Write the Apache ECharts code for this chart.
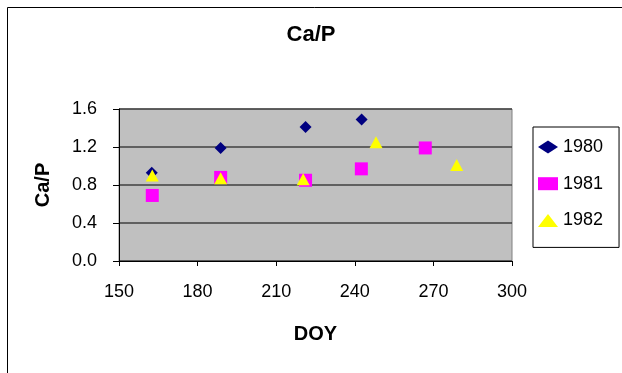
<!DOCTYPE html>
<html>
<head>
<meta charset="utf-8">
<script src="https://cdn.jsdelivr.net/npm/echarts@6/dist/echarts.min.js"></script>
<style>
html,body{margin:0;padding:0;background:#fff;}
#c{width:622px;height:373px;}
</style>
</head>
<body>
<div id="c"></div>
<script>
const seriesNames = ['1980', '1981', '1982'];
const doy1980 = [162.5, 188.8, 221.2, 242.6];
const val1980 = [0.93, 1.19, 1.41, 1.49];
const doy1981 = [162.7, 188.8, 221.2, 242.5, 266.9];
const val1981 = [0.69, 0.88, 0.85, 0.97, 1.19];
const doy1982 = [162.7, 188.8, 220.3, 248.1, 278.9];
const val1982 = [0.90, 0.87, 0.86, 1.25, 1.01];
const xTicks = [150, 180, 210, 240, 270, 300];
const yTicks = [0.0, 0.4, 0.8, 1.2, 1.6];

const FONT = '"Liberation Sans", Arial, sans-serif';
const zip = (a, b) => a.map((v, i) => [v, b[i]]);

const chart = echarts.init(document.getElementById('c'), null, {renderer: 'canvas'});
chart.setOption({
  animation: false,
  backgroundColor: '#ffffff',
  title: {
    text: 'Ca/P',
    left: 'center',
    top: 24,
    padding: 0,
    textStyle: {fontFamily: FONT, fontSize: 22, fontWeight: 'bold', color: '#000'}
  },
  grid: {
    left: 119, right: 110, top: 109, bottom: 112,
    show: true, backgroundColor: '#C0C0C0', borderColor: '#808080', borderWidth: 1
  },
  xAxis: {
    type: 'value',
    min: xTicks[0], max: xTicks[xTicks.length - 1], interval: 30,
    name: 'DOY', nameLocation: 'middle', nameGap: 63,
    nameTextStyle: {fontFamily: FONT, fontSize: 20, fontWeight: 'bold', color: '#000'},
    axisLine: {show: true, onZero: false, lineStyle: {color: '#000', width: 1}},
    axisTick: {show: true, length: 5, lineStyle: {color: '#000'}},
    axisLabel: {margin: 22, fontFamily: FONT, fontSize: 18, color: '#000'},
    splitLine: {show: false}
  },
  yAxis: {
    type: 'value',
    min: yTicks[0], max: yTicks[yTicks.length - 1], interval: 0.4,
    name: 'Ca/P', nameLocation: 'middle', nameGap: 66,
    nameTextStyle: {fontFamily: FONT, fontSize: 20, fontWeight: 'bold', color: '#000'},
    axisLine: {show: true, onZero: false, lineStyle: {color: '#000', width: 1}},
    axisTick: {show: true, length: 6, lineStyle: {color: '#000'}},
    axisLabel: {margin: 22, fontFamily: FONT, fontSize: 18, color: '#000',
      formatter: v => v.toFixed(1)},
    splitLine: {show: true, lineStyle: {color: '#404040', width: 1.5}}
  },
  legend: {
    orient: 'vertical',
    left: 533, top: 127,
    padding: [10, 16, 17, 5],
    itemGap: 16.7,
    itemWidth: 20, itemHeight: 13,
    borderColor: '#000', borderWidth: 1,
    backgroundColor: '#fff',
    textStyle: {fontFamily: FONT, fontSize: 18, color: '#000', lineHeight: 20},
    data: [
      {name: seriesNames[0], icon: 'diamond', itemStyle: {opacity: 1}},
      {name: seriesNames[1], icon: 'rect', itemStyle: {opacity: 1}},
      {name: seriesNames[2], icon: 'triangle', itemStyle: {opacity: 1}}
    ]
  },
  graphic: [
    {type: 'line', shape: {x1: 7.5, y1: 7.5, x2: 622, y2: 7.5}, style: {stroke: '#000', lineWidth: 1}, silent: true},
    {type: 'line', shape: {x1: 7.5, y1: 7.5, x2: 7.5, y2: 373}, style: {stroke: '#000', lineWidth: 1}, silent: true}
  ],
  series: [
    {name: seriesNames[0], type: 'scatter', symbol: 'diamond', symbolSize: 12,
      itemStyle: {color: '#000080', opacity: 1}, data: zip(doy1980, val1980), z: 3},
    {name: seriesNames[1], type: 'scatter', symbol: 'rect', symbolSize: 13,
      itemStyle: {color: '#FF00FF', opacity: 1}, data: zip(doy1981, val1981), z: 4},
    {name: seriesNames[2], type: 'scatter', symbol: 'triangle', symbolSize: [13, 12],
      itemStyle: {color: '#FFFF00', opacity: 1}, data: zip(doy1982, val1982), z: 5}
  ]
});
</script>
</body>
</html>
